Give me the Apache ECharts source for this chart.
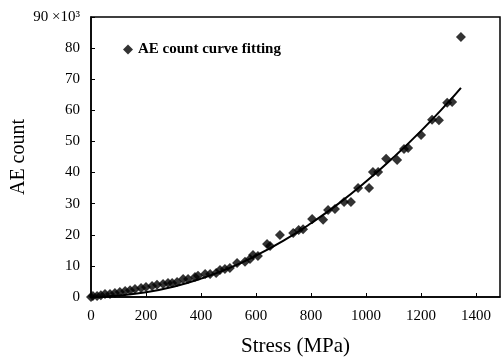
<!DOCTYPE html>
<html>
<head>
<meta charset="utf-8">
<script src="https://cdn.jsdelivr.net/npm/echarts@6/dist/echarts.min.js"></script>
<style>html,body{margin:0;padding:0;background:#fff;}#c{width:501px;height:357px;}</style>
</head>
<body>
<div id="c"></div>
<script>
// Measured AE count points: stress (MPa), AE count (x10^3)
var stress = [0,7,22,36,51,69,87,105,124,142,160,182,200,222,240,262,280,295,313,335,353,378,389,415,433,455,469,487,505,531,560,578,589,607,640,651,687,735,755,771,804,844,862,887,920,945,971,1011,1025,1044,1073,1113,1138,1153,1200,1240,1265,1295,1313,1345];
var aeCount = [0,0.3,0.3,0.6,1.0,1.0,1.3,1.6,1.9,2.2,2.6,2.9,3.2,3.5,3.9,4.2,4.5,4.5,4.8,5.8,5.8,6.4,6.8,7.4,7.4,7.7,8.7,9.0,9.3,10.9,11.3,12.2,13.5,13.2,17.0,16.4,19.9,20.6,21.5,21.8,25.1,24.8,28.0,28.3,30.5,30.5,35.0,35.0,40.2,40.2,44.4,44.0,47.6,47.9,52.1,57.0,56.8,62.4,62.7,83.6];
// Fitted curve
var fitStress = [0,100,200,300,400,500,600,700,800,900,1000,1100,1200,1300,1345];
var fitCount  = [0,0.5,1.5,3.3,5.9,9.2,13.3,18.1,23.7,30.0,37.1,44.9,53.4,62.7,67.2];
var xTicks = [0,200,400,600,800,1000,1200,1400];
var yTicks = [0,10,20,30,40,50,60,70,80,90];
var legendName = 'AE count curve fitting';

var pts = stress.map(function(s,i){return [s, aeCount[i]];});
var fit = fitStress.map(function(s,i){return [s, fitCount[i]];});
var serif = '"Liberation Serif", "Times New Roman", serif';

var chart = echarts.init(document.getElementById('c'), null, {renderer:'canvas'});
chart.setOption({
  animation:false,
  backgroundColor:'#fff',
  grid:{left:91, right:1, top:17, bottom:60, show:true, borderColor:'#000', borderWidth:1.5,
        containLabel:false, outerBoundsMode:'none'},
  legend:{
    data:[{name:legendName, icon:'diamond'}],
    left:118, top:37, itemWidth:10, itemHeight:10, itemGap:4,
    textStyle:{fontFamily:serif, fontSize:15, fontWeight:'bold', color:'#000'}
  },
  xAxis:{
    type:'value', min:0, max:1487, interval:200,
    name:'Stress (MPa)', nameLocation:'middle', nameGap:39, nameMoveOverlap:false,
    nameTextStyle:{fontFamily:serif, fontSize:21, color:'#000'},
    axisLine:{lineStyle:{color:'#000', width:1.5}},
    axisTick:{inside:true, length:4, lineStyle:{color:'#000'}},
    splitLine:{show:false},
    axisLabel:{fontFamily:serif, fontSize:15, color:'#000', margin:12, showMaxLabel:false,
      formatter:function(v){return xTicks.indexOf(v)>=0 ? String(v) : '';}}
  },
  yAxis:{
    type:'value', min:0, max:90, interval:10,
    name:'AE count', nameLocation:'middle', nameGap:62, nameRotate:90, nameMoveOverlap:false,
    nameTextStyle:{fontFamily:serif, fontSize:20, color:'#000'},
    axisLine:{lineStyle:{color:'#000', width:1.5}},
    axisTick:{inside:true, length:4, lineStyle:{color:'#000'}},
    splitLine:{show:false},
    axisLabel:{fontFamily:serif, fontSize:15, color:'#000', margin:11,
      formatter:function(v){ if(yTicks.indexOf(v)<0) return ''; return v===90 ? '90 \u00d710\u00b3' : String(v);}}
  },
  series:[
    {name:legendName, type:'scatter', data:pts, symbol:'diamond', symbolSize:10,
     itemStyle:{color:'#000'}, z:3},
    {name:'fit', type:'line', data:fit, smooth:true, showSymbol:false, symbol:'none',
     lineStyle:{color:'#000', width:2}, z:2}
  ]
});
</script>
</body>
</html>
